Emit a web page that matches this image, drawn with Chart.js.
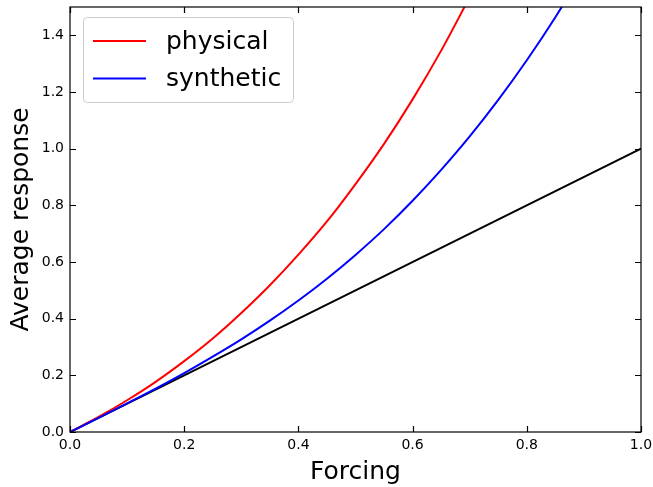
<!DOCTYPE html>
<html>
<head>
<meta charset="utf-8">
<script src="https://cdn.jsdelivr.net/npm/chart.js@4"></script>
<style>
  html, body { margin:0; padding:0; background:#fff; }
  #wrap { width:653px; height:487px; }
</style>
</head>
<body>
<div id="wrap"><canvas id="chart" width="653" height="487"></canvas></div>
<script>
const forcing   = [0, 0.05, 0.1, 0.15, 0.2, 0.25, 0.3, 0.35, 0.4, 0.45, 0.5, 0.55, 0.6, 0.65, 0.7, 0.75, 0.8, 0.85, 0.9];
const physical  = [0, 0.053, 0.112, 0.177, 0.250, 0.330, 0.420, 0.518, 0.626, 0.743, 0.875, 1.017, 1.174, 1.346, 1.535];
const synthetic = [0, 0.050, 0.101, 0.153, 0.208, 0.266, 0.327, 0.393, 0.464, 0.541, 0.625, 0.716, 0.816, 0.925, 1.043, 1.172, 1.312, 1.464, 1.629];
const linearX   = [0, 1];
const linearY   = [0, 1];
const xTicks    = [0, 0.2, 0.4, 0.6, 0.8, 1.0];
const yTicks    = [0, 0.2, 0.4, 0.6, 0.8, 1.0, 1.2, 1.4];

const FONT = "'DejaVu Sans', sans-serif";

function pts(xs, ys){
  return ys.map((y,i)=>({ x: xs[i], y }));
}

// inward ticks, frame and the boxed legend, like matplotlib
const frame = {
  id:'frame',
  afterDatasetsDraw(chart){
    const {ctx, chartArea:a, scales:{x, y}} = chart;
    const L = 6;
    ctx.save();
    ctx.strokeStyle = '#000';
    ctx.lineWidth = 1.2;
    ctx.beginPath();
    xTicks.forEach(v=>{
      const px = Math.round(x.getPixelForValue(v)) + 0.5;
      ctx.moveTo(px, a.bottom); ctx.lineTo(px, a.bottom - L);
      ctx.moveTo(px, a.top); ctx.lineTo(px, a.top + L);
    });
    yTicks.forEach(v=>{
      const py = Math.round(y.getPixelForValue(v)) + 0.5;
      ctx.moveTo(a.left, py); ctx.lineTo(a.left + L, py);
      ctx.moveTo(a.right, py); ctx.lineTo(a.right - L, py);
    });
    ctx.stroke();
    ctx.strokeRect(a.left, a.top, a.right - a.left, a.bottom - a.top);

    // legend
    const items = chart.data.datasets.filter(d=>d.label);
    const bx = 83, by = 17, bw = 210, bh = 85;
    ctx.beginPath();
    ctx.roundRect(bx + 0.5, by + 0.5, bw, bh, 4);
    ctx.fillStyle = 'rgba(255,255,255,0.8)';
    ctx.fill();
    ctx.strokeStyle = '#cccccc';
    ctx.lineWidth = 1;
    ctx.stroke();
    ctx.font = '25px ' + FONT;
    ctx.textBaseline = 'middle';
    items.forEach((d,i)=>{
      const ly = 41 + i*37.5;
      ctx.strokeStyle = d.borderColor;
      ctx.lineWidth = 2;
      ctx.beginPath();
      ctx.moveTo(93, ly); ctx.lineTo(146, ly);
      ctx.stroke();
      ctx.fillStyle = '#000';
      ctx.fillText(d.label, 166, ly + 1);
    });
    ctx.restore();
  }
};

new Chart(document.getElementById('chart'), {
  type:'line',
  data:{
    datasets:[
      { label:'physical', data:pts(forcing, physical), borderColor:'#ff0000', borderWidth:2, order:2 },
      { label:'synthetic', data:pts(forcing, synthetic), borderColor:'#0000ff', borderWidth:2, order:1 },
      { label:'', data:pts(linearX, linearY), borderColor:'#000000', borderWidth:2, order:3 }
    ]
  },
  options:{
    responsive:false,
    animation:false,
    devicePixelRatio:1,
    layout:{ padding:{ top:7, right:12, left:0, bottom:0 } },
    elements:{
      point:{ radius:0 },
      line:{ cubicInterpolationMode:'monotone', fill:false }
    },
    plugins:{ legend:{ display:false }, tooltip:{ enabled:false } },
    scales:{
      x:{
        type:'linear', min:0, max:1,
        grid:{ display:false, drawTicks:false },
        border:{ display:false },
        ticks:{ stepSize:0.2, padding:5, color:'#000', font:{ family:FONT, size:14 },
                callback:v=>v.toFixed(1), maxRotation:0 },
        title:{ display:true, text:'Forcing', color:'#000', font:{ family:FONT, size:25 }, padding:{ top:2, bottom:0 } },
        afterFit(s){ s.height = 55; s.paddingLeft = 0; s.paddingRight = 0; }
      },
      y:{
        type:'linear', min:0, max:1.5,
        grid:{ display:false, drawTicks:false },
        border:{ display:false },
        ticks:{ stepSize:0.2, includeBounds:false, padding:6, color:'#000', font:{ family:FONT, size:14 },
                callback:v=>v.toFixed(1) },
        title:{ display:true, text:'Average response', color:'#000', font:{ family:FONT, size:25 }, padding:{ top:6, bottom:4 } },
        afterFit(s){ s.width = 70; s.paddingTop = 0; s.paddingBottom = 0; }
      }
    }
  },
  plugins:[frame]
});
</script>
</body>
</html>
